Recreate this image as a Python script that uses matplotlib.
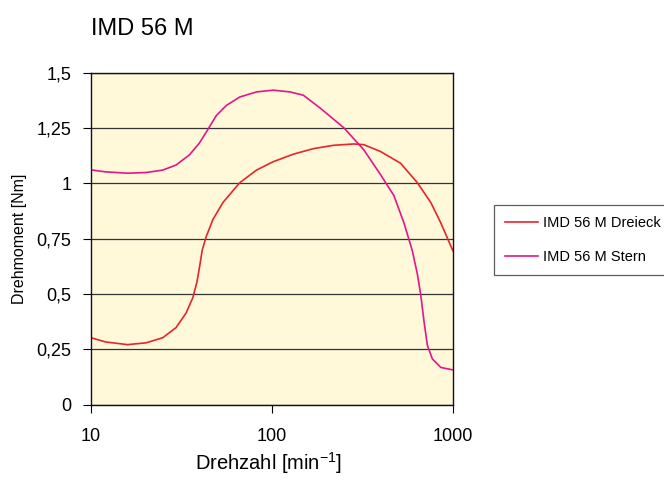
import matplotlib
matplotlib.use("Agg")
import matplotlib.pyplot as plt
from matplotlib.ticker import FixedLocator, NullLocator

plt.rcParams['font.family'] = ['Liberation Sans', 'DejaVu Sans']
plt.rcParams['mathtext.default'] = 'regular'

# Drehzahl [min^-1] / Drehmoment [Nm]
dreieck_n = [10, 12.06, 15.92, 20.13, 24.91, 29.54, 33.57, 36.56, 38.47, 39.81, 41.2, 43.36,
             47.2, 53.66, 66.4, 82.2, 101.7, 131.4, 169.7, 219.1, 283.1, 321.7, 398.1, 514.2,
             636.6, 754.8, 857.7, 1000]
dreieck_m = [0.303, 0.284, 0.272, 0.280, 0.303, 0.349, 0.415, 0.484, 0.553, 0.622, 0.699, 0.760,
             0.837, 0.914, 1.003, 1.060, 1.098, 1.132, 1.157, 1.172, 1.178, 1.175, 1.144, 1.091,
             1.003, 0.914, 0.822, 0.696]

stern_n = [10, 12.06, 15.92, 20.13, 24.91, 29.54, 35.03, 39.81, 44.3, 49.27, 56.0, 66.4,
           82.2, 101.7, 125.9, 149.3, 184.8, 249.1, 321.7, 398.1, 472.2, 536.6, 597, 636.6,
           664, 693, 723, 771, 857.7, 1000]
stern_m = [1.061, 1.052, 1.046, 1.049, 1.060, 1.083, 1.129, 1.183, 1.244, 1.306, 1.352, 1.390,
           1.413, 1.421, 1.413, 1.398, 1.340, 1.252, 1.152, 1.040, 0.945, 0.822, 0.696, 0.591,
           0.499, 0.376, 0.269, 0.207, 0.169, 0.158]

y_ticks = [0, 0.25, 0.5, 0.75, 1, 1.25, 1.5]
y_labels = ['0', '0,25', '0,5', '0,75', '1', '1,25', '1,5']
x_ticks = [10, 100, 1000]
x_labels = ['10', '100', '1000']

fig = plt.figure(figsize=(6.64, 4.78), dpi=100)
ax = fig.add_axes([0.137, 0.153, 0.545, 0.695])
ax.set_facecolor('#FFF9DA')

ax.plot(dreieck_n, dreieck_m, color='#E8242C', lw=1.2, label='IMD 56 M Dreieck')
ax.plot(stern_n, stern_m, color='#E2168A', lw=1.2, label='IMD 56 M Stern')

ax.set_xscale('log')
ax.set_xlim(10, 1000)
ax.set_ylim(0, 1.5)
ax.xaxis.set_major_locator(FixedLocator(x_ticks))
ax.xaxis.set_minor_locator(NullLocator())
ax.set_xticklabels(x_labels)
ax.set_yticks(y_ticks)
ax.set_yticklabels(y_labels)
ax.grid(axis='y', color='#333333', lw=0.9)
ax.set_axisbelow(True)

for s in ax.spines.values():
    s.set_color('#111111')
    s.set_linewidth(1.0)
ax.tick_params(axis='y', direction='out', length=6, labelsize=13, pad=8)
ax.tick_params(axis='x', direction='out', length=6, labelsize=13, pad=11)

ax.set_ylabel('Drehmoment [Nm]', fontsize=11.5, labelpad=7)
# x label placed in figure coords so it sits at the bottom edge like the reference
fig.text(0.405, 1 - 470 / 478, 'Drehzahl [min$^{-1}$]', fontsize=14.5,
         ha='center', va='baseline')
fig.text(0.137, 0.927, 'IMD 56 M', fontsize=17)

leg = ax.legend(loc='upper left', bbox_to_anchor=(494 / 664, 1 - 205 / 478),
                bbox_transform=fig.transFigure, borderaxespad=0, fontsize=10.5,
                frameon=True, fancybox=False, edgecolor='#333333',
                handlelength=2.3, borderpad=0.75, labelspacing=1.35, handletextpad=0.3)
leg.get_frame().set_linewidth(0.9)

fig.savefig('out.png', dpi=100)
